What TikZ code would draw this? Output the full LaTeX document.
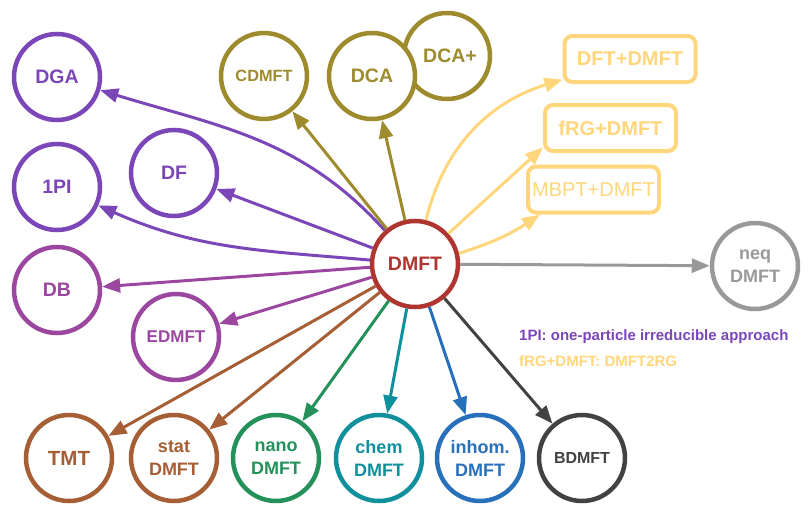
\documentclass[tikz,border=0pt]{standalone}
\usepackage{fontspec}
\setmainfont{Liberation Sans}
\usetikzlibrary{arrows.meta}
\definecolor{cpur}{HTML}{7B46B8}
\definecolor{cmag}{HTML}{9B479F}
\definecolor{coli}{HTML}{9D8B2D}
\definecolor{cyel}{HTML}{FFD67B}
\definecolor{cred}{HTML}{AE3530}
\definecolor{cgry}{HTML}{999999}
\definecolor{cbrn}{HTML}{A65E34}
\definecolor{cgrn}{HTML}{24915A}
\definecolor{ctea}{HTML}{108F9D}
\definecolor{cblu}{HTML}{2870BA}
\definecolor{cdrk}{HTML}{424242}
\tikzset{
  circ/.style={circle, line width=4.5pt, minimum size=86pt, inner sep=0pt, fill=white, align=center,
    draw=#1, text=#1, font=\bfseries\fontsize{19.5}{23}\selectfont},
  two/.style={font=\bfseries\fontsize{18}{23}\selectfont},
  boxn/.style={rectangle, rounded corners=8pt, line width=4pt, draw=cyel, text=cyel,
    minimum width=131pt, minimum height=46pt, inner sep=0pt, font=\bfseries\fontsize{20}{24}\selectfont},
  conn/.style={draw=#1, line width=3pt, -{Triangle[length=18pt,width=14pt]}},
  note/.style={anchor=base west, inner sep=0pt, font=\bfseries\fontsize{15}{18}\selectfont}
}
\begin{document}
\begin{tikzpicture}[x=1pt,y=1pt]
\useasboundingbox (0,0) rectangle (812,-514);
% nodes
\node[circ=cpur] (dga) at (57,-77) {DGA};
\node[circ=cpur] (onepi) at (57,-187) {1PI};
\node[circ=cpur] (df) at (174,-173) {DF};
\node[circ=cmag] (db) at (57,-290) {DB};
\node[circ=cmag, font=\bfseries\fontsize{17}{20}\selectfont] (edmft) at (176,-337) {EDMFT};
\node[circ=coli, font=\bfseries\fontsize{16.3}{20}\selectfont] (cdmft) at (264,-76) {CDMFT};
\node[circ=coli] (dcap) at (447,-56) {\hspace*{6pt}DCA+};
\node[circ=coli] (dca) at (372,-76) {DCA};
\node[circ=cred] (dmft) at (415,-264) {DMFT};
\node[circ=cgry, two] (neq) at (755,-266) {neq\\DMFT};
\node[circ=cbrn, font=\bfseries\fontsize{20.5}{24}\selectfont] (tmt) at (69,-458) {TMT};
\node[circ=cbrn, two] (stat) at (174,-458) {stat\\DMFT};
\node[circ=cgrn, two] (nano) at (276,-458) {nano\\DMFT};
\node[circ=ctea, two] (chem) at (379,-458) {chem\\DMFT};
\node[circ=cblu, two] (inhom) at (480,-458) {inhom.\\DMFT};
\node[circ=cdrk, font=\bfseries\fontsize{16}{20}\selectfont] (bdmft) at (582,-458) {BDMFT};
\node[boxn] (dft) at (630,-59) {DFT+DMFT};
\node[boxn] (frg) at (610.5,-128) {fRG+DMFT};
\node[boxn, font=\fontsize{20}{24}\selectfont] (mbpt) at (593.5,-189.5) {MBPT+DMFT};
% notes
\node[note, text=cpur] (n1) at (519,-340) {1PI: one-particle irreducible approach};
\node[note, text=cyel] (n2) at (519,-366) {fRG+DMFT: DMFT2RG};
% connectors
\draw[conn=cpur] (dmft) to[out=132,in=343] (dga);
\draw[conn=cpur] (dmft) to[out=175,in=336] (onepi);
\draw[conn=cpur] (dmft) -- (df);
\draw[conn=cmag] (dmft) -- (db);
\draw[conn=cmag] (dmft) -- (edmft);
\draw[conn=coli] (dmft) -- (cdmft);
\draw[conn=coli] (dmft) -- (dca);
\draw[conn=cyel] (dmft) to[out=76,in=197] (dft);
\draw[conn=cyel] (dmft) -- (frg.196);
\draw[conn=cyel] (dmft) to[bend right=8] (mbpt.205);
\draw[conn=cgry] (dmft) -- (neq);
\draw[conn=cbrn] (dmft) -- (tmt);
\draw[conn=cbrn] (dmft) -- (stat);
\draw[conn=cgrn] (dmft) -- (nano);
\draw[conn=ctea] (dmft) -- (chem);
\draw[conn=cblu] (dmft) -- (inhom);
\draw[conn=cdrk] (dmft) -- (bdmft);
\end{tikzpicture}
\end{document}
